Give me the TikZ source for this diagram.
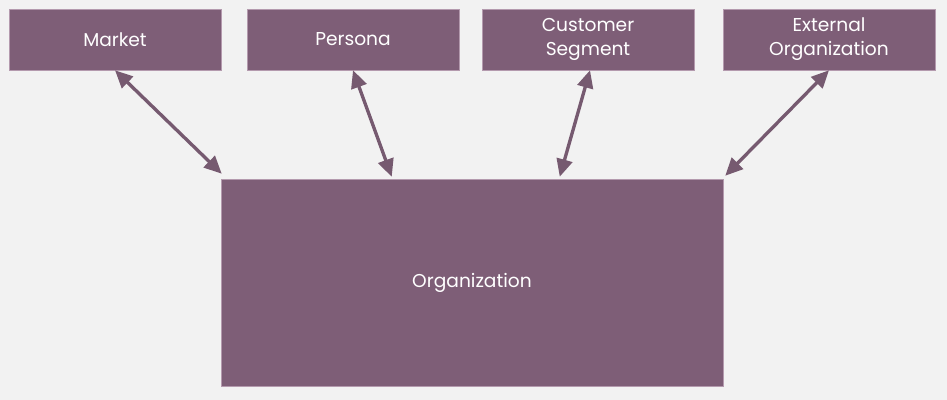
\documentclass[tikz,border=0pt]{standalone}
\usepackage{fontspec}
\setmainfont{Poppins}
\usepackage{tikz}
\usetikzlibrary{arrows.meta}

\definecolor{boxplum}{HTML}{7E5E77}
\definecolor{edgeplum}{HTML}{B49AAE}
\definecolor{linkplum}{HTML}{765A70}
\definecolor{pagegray}{HTML}{F2F2F2}

\begin{document}
\begin{tikzpicture}[
                entity/.style={rectangle, draw=edgeplum, line width=0.3pt, fill=boxplum, text=white, align=center, font=\fontsize{10.6}{13.6}\selectfont, minimum width=4.24cm, minimum height=1.22cm, inner sep=0pt}, % Top boxes
                link/.style={draw=linkplum, line width=1.9pt, {Triangle[length=10pt,width=9pt]}-{Triangle[length=10pt,width=9pt]}} % Two-way arrows
                ]
                \fill[pagegray] (0,0) rectangle (18.94,8);
                \useasboundingbox (0,0) rectangle (18.94,8);
                \node[entity] (market) at (2.30,7.21) {Market};
                \node[entity] (persona) at (7.06,7.21) {Persona};
                \node[entity] (segment) at (11.76,7.21) {Customer\\Segment};
                \node[entity] (extorg) at (16.58,7.21) {External\\Organization};
                \node[entity, minimum width=10.04cm, minimum height=4.14cm] (org) at (9.44,2.35) {Organization};
                \draw[link] (market.south) -- ([xshift=0.02cm,yshift=0.1cm]org.north west);
                \draw[link] (persona.south) -- ([xshift=3.42cm,yshift=0.04cm]org.north west);
                \draw[link] ([xshift=0.04cm]segment.south) -- ([xshift=6.78cm,yshift=0.04cm]org.north west);
                \draw[link] (extorg.south) -- ([xshift=0.04cm,yshift=0.06cm]org.north east);
            \end{tikzpicture}
\end{document}
